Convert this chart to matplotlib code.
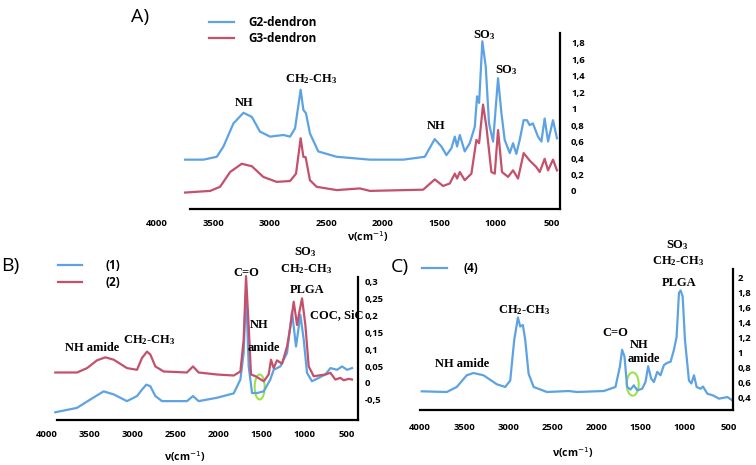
import matplotlib
matplotlib.use('Agg')
import matplotlib.pyplot as plt
from matplotlib.lines import Line2D
from matplotlib.patches import Ellipse

# ---------------- data ----------------
# panel A : G2 / G3 dendron
a_g2_wn = [3751, 3588, 3470, 3411, 3323, 3234, 3160, 3087, 2998, 2880, 2821, 2777, 2727, 2703,
           2680, 2645, 2571, 2408, 2113, 1818, 1627, 1539, 1480, 1435, 1391, 1361, 1341, 1317,
           1273, 1229, 1184, 1164, 1146, 1117, 1087, 1058, 1022, 978, 948, 919, 874, 845, 816,
           786, 751, 722, 698, 669, 624, 594, 565, 535, 491, 456]
a_g2 = [0.38, 0.38, 0.415, 0.54, 0.82, 0.95, 0.90, 0.72, 0.66, 0.68, 0.66, 0.76, 1.23, 0.985,
        0.945, 0.70, 0.48, 0.415, 0.38, 0.38, 0.415, 0.63, 0.54, 0.435, 0.52, 0.66, 0.54, 0.68,
        0.48, 0.58, 0.78, 1.15, 1.07, 1.82, 1.51, 0.82, 0.60, 1.37, 0.945, 0.62, 0.46, 0.58, 0.45,
        0.62, 0.86, 0.86, 0.80, 0.82, 0.66, 0.60, 0.88, 0.60, 0.86, 0.64]
a_g3_wn = [3751, 3529, 3441, 3352, 3249, 3160, 3058, 2940, 2821, 2768, 2727, 2703, 2683, 2645,
           2586, 2408, 2202, 2113, 1641, 1539, 1465, 1406, 1361, 1341, 1317, 1273, 1214, 1170,
           1146, 1111, 1081, 1037, 1007, 978, 943, 889, 845, 801, 751, 698, 639, 609, 565, 535,
           491, 456]
a_g3 = [-0.02, 0.0, 0.05, 0.23, 0.33, 0.30, 0.17, 0.11, 0.12, 0.21, 0.64, 0.415, 0.41, 0.13,
        0.05, 0.01, 0.03, 0.0, 0.015, 0.14, 0.06, 0.09, 0.21, 0.15, 0.23, 0.13, 0.21, 0.62,
        0.58, 1.05, 0.78, 0.23, 0.21, 0.74, 0.23, 0.17, 0.25, 0.15, 0.46, 0.37, 0.29, 0.23, 0.39,
        0.25, 0.38, 0.25]
a_yticks = [0, 0.2, 0.4, 0.6, 0.8, 1.0, 1.2, 1.4, 1.6, 1.8]
a_ylabels = ['0', '0,2', '0,4', '0,6', '0,8', '1', '1,2', '1,4', '1,6', '1,8']

# panel B : samples (1) and (2)
b1_wn = [3903, 3650, 3494, 3339, 3222, 3067, 2950, 2892, 2841, 2794, 2736, 2658, 2367, 2297,
         2231, 2017, 1822, 1744, 1706, 1678, 1647, 1608, 1550, 1472, 1395, 1356, 1278, 1200,
         1142, 1095, 1044, 1005, 967, 909, 753, 694, 616, 558, 500, 442]
b1 = [-0.087, -0.074, -0.049, -0.025, -0.034, -0.054, -0.039, -0.020, -0.005, -0.010, -0.039,
      -0.054, -0.054, -0.039, -0.054, -0.044, -0.031, 0.010, 0.089, 0.275, 0.049, -0.030,
      -0.030, -0.025, 0.010, 0.039, 0.049, 0.089, 0.211, 0.108, 0.202, 0.128, 0.030, 0.005,
      0.025, 0.044, 0.039, 0.049, 0.039, 0.044]
b2_wn = [3903, 3650, 3533, 3417, 3319, 3222, 3067, 2950, 2892, 2833, 2794, 2736, 2639, 2367,
         2297, 2231, 2017, 1822, 1744, 1706, 1678, 1647, 1620, 1569, 1472, 1414, 1387, 1356,
         1317, 1258, 1200, 1161, 1122, 1083, 1056, 1025, 986, 947, 889, 753, 694, 636, 578,
         539, 480, 442]
b2 = [0.031, 0.031, 0.044, 0.067, 0.076, 0.069, 0.044, 0.039, 0.074, 0.093, 0.084, 0.049,
      0.034, 0.031, 0.049, 0.031, 0.025, 0.022, 0.034, 0.128, 0.317, 0.167, 0.025, 0.020,
      0.005, 0.025, 0.069, 0.044, 0.067, 0.057, 0.108, 0.167, 0.241, 0.172, 0.211, 0.251,
      0.172, 0.049, 0.020, 0.025, 0.030, 0.010, 0.015, 0.008, 0.012, 0.010]
b_yticks = [-0.05, 0, 0.05, 0.1, 0.15, 0.2, 0.25, 0.3]
b_ylabels = ['-0,5', '0', '0,05', '0,1', '0,15', '0,2', '0,25', '0,3']
b_circle = (1519, -0.012)

# panel C : sample (4)
c_wn = [3981, 3697, 3584, 3470, 3395, 3281, 3130, 3035, 2978, 2933, 2891, 2865, 2835, 2808,
        2770, 2713, 2562, 2316, 2222, 1919, 1786, 1737, 1711, 1684, 1654, 1616, 1578, 1540,
        1484, 1446, 1416, 1382, 1351, 1313, 1276, 1238, 1200, 1162, 1124, 1094, 1067, 1048,
        1025, 999, 954, 927, 897, 867, 822, 795, 746, 678, 613, 519, 462]
c4 = [0.476, 0.467, 0.534, 0.69, 0.72, 0.69, 0.57, 0.534, 0.62, 1.16, 1.46, 1.34, 1.36, 1.16,
      0.71, 0.534, 0.467, 0.48, 0.467, 0.48, 0.534, 0.80, 1.03, 0.94, 0.534, 0.50, 0.556, 0.49,
      0.51, 0.60, 0.81, 0.646, 0.60, 0.735, 0.69, 0.825, 0.856, 0.87, 1.03, 1.20, 1.79, 1.82,
      1.74, 1.16, 0.62, 0.58, 0.69, 0.534, 0.51, 0.54, 0.445, 0.42, 0.378, 0.40, 0.355]
c_yticks = [0.4, 0.6, 0.8, 1.0, 1.2, 1.4, 1.6, 1.8, 2.0]
c_ylabels = ['0,4', '0,6', '0,8', '1', '1,2', '1,4', '1,6', '1,8', '2']
c_circle = (1591, 0.573)

x_ticks = [4000, 3500, 3000, 2500, 2000, 1500, 1000, 500]

# ---------------- style ----------------
blue = '#5da3e3'
red = '#c4506c'
green = '#9be34a'
W, H = 756, 465
sans = ['Open Sans', 'DejaVu Sans']
serif = ['Liberation Serif', 'DejaVu Serif']
plt.rcParams['font.family'] = sans
plt.rcParams['mathtext.fontset'] = 'custom'
plt.rcParams['mathtext.rm'] = 'Liberation Serif:bold'
plt.rcParams['mathtext.it'] = 'Liberation Serif:bold'
plt.rcParams['mathtext.default'] = 'rm'

fig = plt.figure(figsize=(W / 100, H / 100), dpi=100)


def px_axes(x0, x1, y0, y1):
    # axes from pixel box (y measured from top)
    return fig.add_axes([x0 / W, 1 - y1 / H, (x1 - x0) / W, (y1 - y0) / H])


def fig_text(x, y, s, **kw):
    fig.text(x / W, 1 - y / H, s, **kw)


def key(x0, x1, y, color):
    fig.add_artist(Line2D([x0 / W, x1 / W], [1 - y / H, 1 - y / H], color=color, lw=1.6))


def style(ax, xlim, xspine, ylim, yspine, yticks, ylabels, xpad, ypad):
    ax.set_xlim(*xlim)
    ax.set_ylim(*ylim)
    for s in ['top', 'left']:
        ax.spines[s].set_visible(False)
    ax.spines['bottom'].set_bounds(*xspine)
    ax.spines['right'].set_bounds(*yspine)
    ax.spines['bottom'].set_linewidth(1.6)
    ax.spines['right'].set_linewidth(1.6)
    ax.yaxis.tick_right()
    ax.set_xticks(x_ticks)
    ax.set_xticklabels([str(t) for t in x_ticks])
    ax.set_yticks(yticks)
    ax.set_yticklabels(ylabels)
    ax.tick_params(length=0, labelsize=6.8)
    ax.tick_params(axis='x', pad=xpad)
    ax.tick_params(axis='y', pad=ypad)
    for lab in ax.get_xticklabels() + ax.get_yticklabels():
        lab.set_fontweight('bold')
    ax.patch.set_alpha(0)


def note(ax, x, y, s, size=9):
    ax.text(x, y, s, ha='center', va='center', fontsize=size, fontweight='bold',
            family=serif, clip_on=False)


def xlabel(x, y):
    fig_text(x, y, 'ν(cm$^{-1}$)', ha='center', va='center', fontsize=7.5, fontweight='bold',
             math_fontfamily='dejavusans')


ch = 'CH$_2$-CH$_3$'
so3 = 'SO$_3$'

# ---------------- panel A ----------------
axA = px_axes(157, 560, 33, 209)
axA.plot(a_g2_wn, a_g2, color=blue, lw=1.6)
axA.plot(a_g3_wn, a_g3, color=red, lw=1.6)
style(axA, (4000, 429), (3710, 429), (-0.22, 1.92), (-0.22, 1.92), a_yticks, a_ylabels, 7, 8)
note(axA, 3229, 1.07, 'NH')
note(axA, 2630, 1.36, ch)
note(axA, 1524, 0.79, 'NH')
note(axA, 1096, 1.90, so3)
note(axA, 904, 1.47, so3)
xlabel(368, 237)
fig_text(140, 17, 'A)', ha='center', va='center', fontsize=14)
key(209, 234, 22, blue)
key(209, 234, 38, red)
fig_text(248, 22, 'G2-dendron', va='center', fontsize=8.5, fontweight='bold')
fig_text(248, 38, 'G3-dendron', va='center', fontsize=8.5, fontweight='bold')

# ---------------- panel B ----------------
axB = px_axes(47, 358, 265, 420)
axB.plot(b1_wn, b1, color=blue, lw=1.6)
axB.plot(b2_wn, b2, color=red, lw=1.6)
style(axB, (4000, 372), (3883, 372), (-0.11, 0.35), (-0.11, 0.315), b_yticks, b_ylabels, 7, 5)
axB.add_patch(Ellipse(b_circle, 117, 0.074, fill=False, ec=green, lw=1.5))
note(axB, 1674, 0.325, 'C=O')
note(axB, 1530, 0.172, 'NH')
note(axB, 1472, 0.103, 'amide')
note(axB, 986, 0.389, so3)
note(axB, 974, 0.339, ch)
note(axB, 967, 0.277, 'PLGA')
note(axB, 617, 0.2016, 'COC, SiC')
note(axB, 3475, 0.103, 'NH amide')
note(axB, 2802, 0.128, ch)
xlabel(185, 457)
fig_text(10, 266, 'B)', ha='center', va='center', fontsize=14)
key(58, 82, 265, blue)
key(58, 82, 282, red)
fig_text(106, 265, '(1)', va='center', fontsize=8.5, fontweight='bold')
fig_text(106, 282, '(2)', va='center', fontsize=8.5, fontweight='bold')

# ---------------- panel C ----------------
axC = px_axes(420, 733, 269, 410)
axC.plot(c_wn, c4, color=blue, lw=1.6)
style(axC, (4000, 455), (4000, 455), (0.227, 2.107), (0.227, 2.107), c_yticks, c_ylabels, 9, 3)
axC.add_patch(Ellipse(c_circle, 136, 0.31, fill=False, ec=green, lw=1.5))
note(axC, 1086, 2.43, so3)
note(axC, 1079, 2.21, ch)
note(axC, 1067, 1.92, 'PLGA')
note(axC, 2819, 1.56, ch)
note(axC, 1786, 1.25, 'C=O')
note(axC, 1521, 1.09, 'NH')
note(axC, 1465, 0.905, 'amide')
note(axC, 3527, 0.847, 'NH amide')
xlabel(573, 453)
fig_text(400, 267, 'C)', ha='center', va='center', fontsize=14)
key(422, 447, 268, blue)
fig_text(464, 268, '(4)', va='center', fontsize=8.5, fontweight='bold')

fig.savefig('out.png', dpi=100)
